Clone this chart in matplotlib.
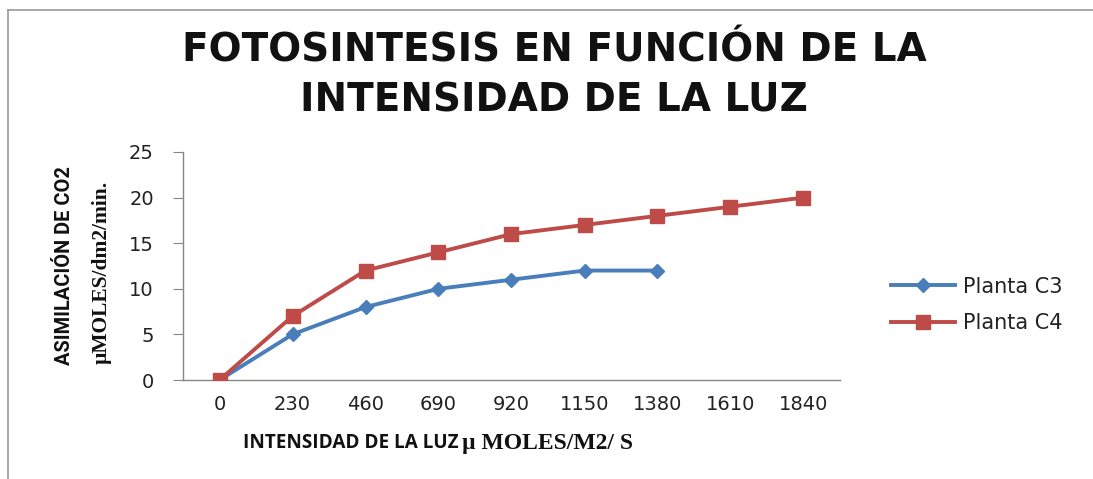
import matplotlib
matplotlib.use("Agg")
import matplotlib.pyplot as plt
from matplotlib.lines import Line2D

categories = ["0", "230", "460", "690", "920", "1150", "1380", "1610", "1840"]
c3_values = [0, 5, 8, 10, 11, 12, 12]
c4_values = [0, 7, 12, 14, 16, 17, 18, 19, 20]
y_ticks = [0, 5, 10, 15, 20, 25]

W, H = 1093, 479
fig = plt.figure(figsize=(W / 100, H / 100), dpi=100)
fig.patch.set_facecolor("white")

ax = fig.add_axes([183 / W, 1 - 380 / H, (840 - 183) / W, (380 - 152) / H])
x3 = list(range(len(c3_values)))
x4 = list(range(len(c4_values)))
l3, = ax.plot(x3, c3_values, color="#4A7EBB", lw=2.8, marker="D", ms=7.5,
              label="Planta C3", zorder=3)
l4, = ax.plot(x4, c4_values, color="#BE4B48", lw=2.8, marker="s", ms=10,
              label="Planta C4", zorder=4)

ax.set_xlim(-0.5, len(categories) - 0.5)
ax.set_ylim(0, 25)
ax.set_xticks(range(len(categories)))
ax.set_xticklabels(categories)
ax.set_yticks(y_ticks)
for s in ["top", "right"]:
    ax.spines[s].set_visible(False)
for s in ["left", "bottom"]:
    ax.spines[s].set_color("#868686")
    ax.spines[s].set_linewidth(1.0)
ax.tick_params(axis="x", length=0, pad=11, labelsize=14, labelcolor="#222222")
ax.tick_params(axis="y", length=7, color="#868686", pad=14, labelsize=14,
               labelcolor="#222222")
for lab in ax.get_xticklabels() + ax.get_yticklabels():
    lab.set_family(["DejaVu Sans"])
ax.patch.set_alpha(0)

# Title
title_font = ["DejaVu Sans"]
fig.text(554 / W, 1 - 51 / H, "FOTOSINTESIS EN FUNCIÓN DE LA", ha="center", va="center",
         fontsize=28, fontweight="bold", family=title_font, color="#111111")
fig.text(554 / W, 1 - 101 / H, "INTENSIDAD DE LA LUZ", ha="center", va="center",
         fontsize=28, fontweight="bold", family=title_font, color="#111111")

# Y label (two lines, rotated)
fig.text(64 / W, 1 - 266 / H, "ASIMILACIÓN DE CO2", rotation=90, ha="center", va="center",
         fontsize=14.4, fontweight="bold", family=["Roboto", "DejaVu Sans"],
         color="#111111")
fig.text(102 / W, 1 - 272 / H, "µMOLES/dm2/min.", rotation=90, ha="center", va="center",
         fontsize=15.5, fontweight="bold", family=["Liberation Serif", "DejaVu Serif"],
         color="#111111")

# X label (mixed fonts)
fig.text(243 / W, 1 - 443 / H, "INTENSIDAD DE LA LUZ", ha="left", va="center",
         fontsize=13.6, fontweight="bold", family=["Open Sans", "DejaVu Sans"], color="#111111")
fig.text(462 / W, 1 - 443 / H, "µ MOLES/M2/ S", ha="left", va="center",
         fontsize=17, fontweight="bold", family=["Liberation Serif", "DejaVu Serif"],
         color="#111111")

# Legend
leg = fig.legend(handles=[l3, l4], loc="center left",
                 bbox_to_anchor=(872 / W, 1 - 305 / H), frameon=False,
                 handlelength=3.1, handletextpad=0.35, labelspacing=0.8,
                 prop={"family": ["DejaVu Sans"], "size": 15})
for t in leg.get_texts():
    t.set_color("#222222")

# Chart area border (left and top)
fig.add_artist(Line2D([8 / W, 8 / W], [1 - 10 / H, 0], transform=fig.transFigure,
                      color="#9a9a9a", lw=1.2))
fig.add_artist(Line2D([8 / W, 1], [1 - 10 / H, 1 - 10 / H], transform=fig.transFigure,
                      color="#9a9a9a", lw=1.2))

fig.savefig("out.png", dpi=100)
